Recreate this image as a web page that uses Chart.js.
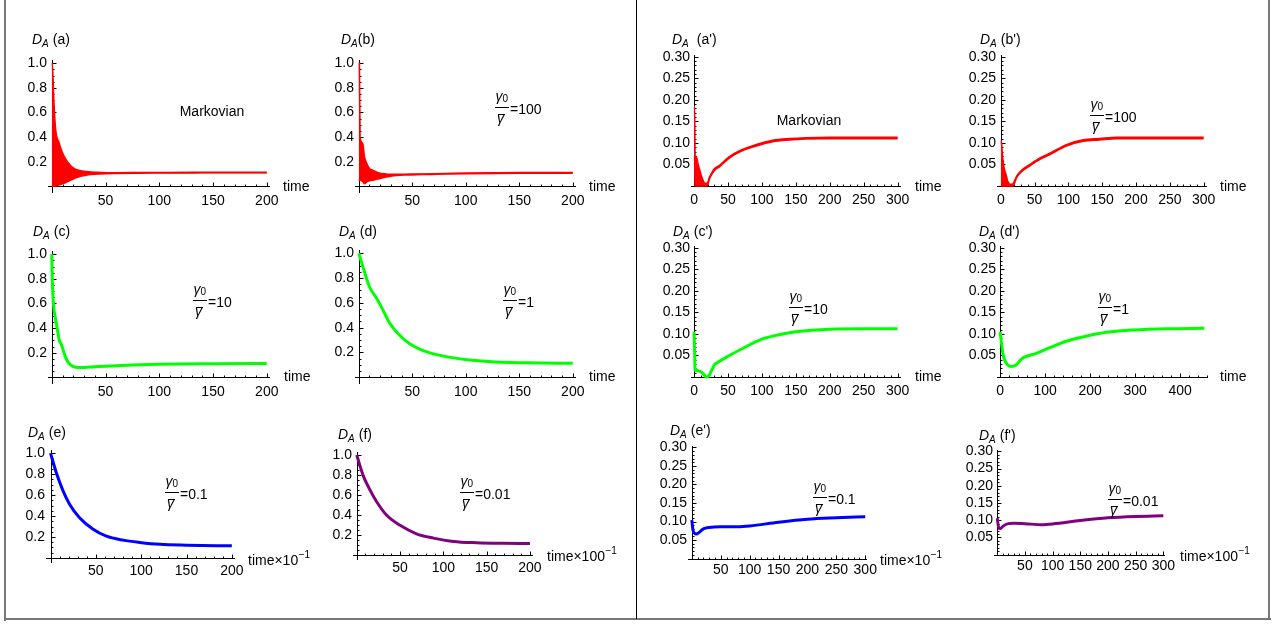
<!DOCTYPE html>
<html>
<head>
<meta charset="utf-8">
<script src="https://cdn.jsdelivr.net/npm/chart.js@4.4.0/dist/chart.umd.min.js"></script>
<style>
html, body { margin: 0; padding: 0; background: #fff; }
#page { position: relative; width: 1276px; height: 626px; overflow: hidden; }
#page canvas { position: absolute; }
.rule { position: absolute; background: #777; }
</style>
</head>
<body>
<div id="page">
  <div class="rule" style="left:4px;top:0;width:2px;height:621px"></div>
  <div class="rule" style="left:4px;top:618px;width:1267px;height:2px"></div>
  <div class="rule" style="left:1268px;top:0;width:2px;height:620px"></div>
  <div class="rule" style="left:636px;top:0;width:1px;height:619px;background:#000"></div>
</div>
<script>
// values

// (a) Markovian, fast oscillation drawn as an envelope
const aTime  = [0, 0.5, 2, 3.6, 6.7, 10, 13, 17.8, 22.5, 32, 45, 60, 80, 100, 130, 160, 200];
const aUpper = [1.0, 1.0, 0.68, 0.46, 0.355, 0.27, 0.22, 0.165, 0.137, 0.12, 0.112, 0.11, 0.111, 0.112, 0.113, 0.113, 0.113];
const aLower = [0.0, 0.0, 0.0, 0.005, 0.01, 0.02, 0.03, 0.05, 0.07, 0.09, 0.1, 0.104, 0.107, 0.108, 0.109, 0.11, 0.11];

// (b) g0/g = 100
const bTime  = [0, 0.6, 1.2, 3.7, 5.3, 7.5, 10, 13, 16, 19, 25.5, 28.7, 35, 44, 60, 80, 100, 130, 160, 200];
const bUpper = [1.0, 1.0, 0.40, 0.35, 0.24, 0.185, 0.145, 0.13, 0.117, 0.108, 0.1, 0.098, 0.097, 0.098, 0.1, 0.104, 0.107, 0.11, 0.111, 0.112];
const bLower = [0.05, 0.05, 0.05, 0.04, 0.02, 0.035, 0.045, 0.05, 0.055, 0.062, 0.075, 0.08, 0.088, 0.092, 0.095, 0.099, 0.102, 0.105, 0.106, 0.107];

// (c) g0/g = 10
const cTime   = [0, 0.5, 1.5, 3, 5, 7, 9, 11, 13, 15, 17.5, 20, 25, 30, 40, 50, 75, 100, 150, 200];
const cValues = [1.0, 0.8, 0.6, 0.5, 0.4, 0.3, 0.265, 0.21, 0.16, 0.125, 0.1, 0.087, 0.08, 0.08, 0.085, 0.09, 0.1, 0.106, 0.11, 0.112];

// (d) g0/g = 1
const dTime   = [0, 4, 10, 16.5, 21, 29, 38, 47.6, 63, 79, 103.6, 128, 156, 200];
const dValues = [1.0, 0.89, 0.73, 0.64, 0.57, 0.435, 0.34, 0.27, 0.206, 0.17, 0.138, 0.122, 0.116, 0.112];

// (e) g0/g = 0.1
const eTime   = [0, 6.3, 13.7, 21, 32, 47, 61.6, 80, 98.5, 120.7, 150, 200];
const eValues = [1.0, 0.815, 0.643, 0.513, 0.384, 0.274, 0.208, 0.17, 0.148, 0.13, 0.122, 0.116];

// (f) g0/g = 0.01
const fTime   = [0, 7.7, 15.4, 23, 34.6, 50, 69, 88.5, 111.5, 138.5, 169, 200];
const fValues = [1.0, 0.79, 0.65, 0.535, 0.40, 0.30, 0.216, 0.173, 0.14, 0.127, 0.121, 0.118];

// (a') Markovian
const apTime  = [0, 0.8, 1.5, 3.4, 6, 8.3, 10.5, 13, 16, 19, 23, 30, 37.7, 52, 67, 92, 116, 141, 165, 200, 250, 300];
const apUpper = [0.185, 0.185, 0.07, 0.068, 0.05, 0.037, 0.025, 0.014, 0.006, 0.006, 0.021, 0.04, 0.048, 0.068, 0.082, 0.096, 0.106, 0.11, 0.112, 0.113, 0.113, 0.113];
const apLower = [0.07, 0.07, 0.0, 0.0, 0.0, 0.0, 0.0, 0.0, 0.0, 0.0, 0.018, 0.036, 0.045, 0.065, 0.079, 0.093, 0.103, 0.107, 0.109, 0.11, 0.11, 0.11];

// (b') g0/g = 100
const bpTime  = [0, 0.8, 2, 4, 6, 8, 10, 12, 15, 18, 23.6, 31, 43, 58, 72.7, 97, 122, 146, 171, 200, 250, 300];
const bpUpper = [0.105, 0.105, 0.08, 0.05, 0.035, 0.025, 0.012, 0.006, 0.004, 0.005, 0.023, 0.037, 0.05, 0.065, 0.076, 0.096, 0.107, 0.11, 0.113, 0.113, 0.113, 0.113];
const bpLower = [0.0, 0.0, 0.0, 0.0, 0.0, 0.0, 0.0, 0.0, 0.0, 0.0, 0.02, 0.034, 0.047, 0.062, 0.073, 0.093, 0.104, 0.107, 0.11, 0.11, 0.11, 0.11];

// (c') g0/g = 10
const cpTime   = [0, 0.8, 1.5, 5, 10, 15, 18, 22, 25, 30, 33, 50, 70, 100, 125, 150, 200, 250, 300];
const cpValues = [0.105, 0.06, 0.015, 0.015, 0.012, 0.005, 0.0, 0.003, 0.012, 0.028, 0.032, 0.048, 0.065, 0.088, 0.098, 0.105, 0.111, 0.112, 0.112];

// (d') g0/g = 1
const dpTime   = [0, 6, 9.6, 17, 24, 35.5, 46.7, 54, 80, 110, 147, 184, 220, 258, 295, 369, 454];
const dpValues = [0.105, 0.055, 0.04, 0.028, 0.0245, 0.028, 0.041, 0.046, 0.055, 0.068, 0.083, 0.093, 0.101, 0.106, 0.109, 0.112, 0.113];

// (e') g0/g = 0.1
const epTime   = [0, 2, 5, 8, 12, 20, 30, 50, 80, 100, 150, 200, 250, 300];
const epValues = [0.104, 0.077, 0.068, 0.066, 0.07, 0.08, 0.084, 0.086, 0.086, 0.088, 0.098, 0.106, 0.11, 0.113];

// (f') g0/g = 0.01
const fpTime   = [0, 3, 6, 10, 20, 30, 50, 80, 100, 150, 200, 250, 300];
const fpValues = [0.106, 0.077, 0.076, 0.082, 0.09, 0.091, 0.09, 0.087, 0.089, 0.099, 0.107, 0.111, 0.113];

// tick labels
const xTicksLeft    = [50, 100, 150, 200];
const yTicksLeft    = [0.2, 0.4, 0.6, 0.8, 1.0];
const xTicksRight   = [0, 50, 100, 150, 200, 250, 300];
const xTicksLong    = [0, 100, 200, 300, 400];
const xTicksScaled  = [50, 100, 150, 200, 250, 300];
const yTicksRight   = [0.05, 0.10, 0.15, 0.20, 0.25, 0.30];

const RED = '#ff0000', GREEN = '#00ff00', BLUE = '#0000ff', PURPLE = '#800080';
const FONT = '"Liberation Sans", Arial, sans-serif';
const LPAD = 45, TPAD = 40, RPAD = 90, BPAD = 30;
const page = document.getElementById('page');

function curve(ts, vs, color) {
  return { data: ts.map((t, i) => ({ x: t, y: vs[i] })), borderColor: color, borderWidth: 3,
           pointRadius: 0, fill: false, cubicInterpolationMode: 'monotone', clip: 4 };
}
function band(ts, hi, lo, color) {
  return [
    { data: ts.map((t, i) => ({ x: t, y: hi[i] })), borderColor: color, borderWidth: 1.6,
      pointRadius: 0, fill: false, cubicInterpolationMode: 'monotone', clip: 4 },
    { data: ts.map((t, i) => ({ x: t, y: lo[i] })), borderColor: color, borderWidth: 1.6,
      pointRadius: 0, fill: '-1', backgroundColor: color, cubicInterpolationMode: 'monotone', clip: 4 }
  ];
}

function drawTitle(ctx, x, y, tag, gap) {
  ctx.textAlign = 'left'; ctx.textBaseline = 'alphabetic'; ctx.fillStyle = '#000';
  ctx.font = 'italic 14px ' + FONT;
  ctx.fillText('D', x, y);
  let w = ctx.measureText('D').width;
  ctx.font = 'italic 10px ' + FONT;
  ctx.fillText('A', x + w, y + 3);
  w += ctx.measureText('A').width;
  ctx.font = '14px ' + FONT;
  ctx.fillText(tag, x + w + gap, y);
}

function drawRatio(ctx, x, y, value) {
  ctx.textAlign = 'left'; ctx.textBaseline = 'alphabetic'; ctx.fillStyle = '#000';
  ctx.font = 'italic 14px ' + FONT;
  const gw = ctx.measureText('\u03b3').width;
  ctx.fillText('\u03b3', x + 0.5, y - 6);
  ctx.font = '10px ' + FONT;
  ctx.fillText('0', x + 0.5 + gw, y - 5);
  ctx.fillRect(x, Math.round(y), 14, 1);
  ctx.font = 'italic 14px ' + FONT;
  ctx.fillText('\u03b3', x + 2, y + 16);
  ctx.fillRect(x + 3, Math.round(y) + 7, gw, 1);
  ctx.font = '14px ' + FONT;
  ctx.textBaseline = 'middle';
  ctx.fillText('=' + value, x + 15, y + 3);
}

function drawTime(ctx, x, y, scale) {
  ctx.textAlign = 'left'; ctx.textBaseline = 'middle'; ctx.fillStyle = '#000';
  ctx.font = '14px ' + FONT;
  const base = scale ? 'time\u00d7' + scale : 'time';
  ctx.fillText(base, x, y);
  if (scale) {
    const w = ctx.measureText(base).width;
    ctx.font = '10px ' + FONT;
    ctx.fillText('\u22121', x + w + 0.5, y - 6);
  }
}

function panel(p) {
  const xs = (p.xEndPx - p.x0) / p.xEndVal;
  const ys = (p.y0 - p.yTopPx) / p.yTopVal;
  const caL = Math.round(p.x0 + p.xMin * xs);
  const caR = Math.round(p.x0 + p.xMax * xs);
  const caT = Math.round(p.y0 - p.yMax * ys);
  const caB = Math.round(p.y0 - p.yMin * ys);
  const left = caL - LPAD, top = caT - TPAD;
  const W = caR - caL + LPAD + RPAD, H = caB - caT + TPAD + BPAD;
  const cv = document.createElement('canvas');
  cv.width = W; cv.height = H;
  cv.style.left = left + 'px'; cv.style.top = top + 'px';
  cv.style.width = W + 'px'; cv.style.height = H + 'px';
  page.appendChild(cv);

  const decorations = {
    id: 'mmaAxes',
    beforeDatasetsDraw(chart) {
      const ctx = chart.ctx, ca = chart.chartArea;
      const sx = chart.scales.x, sy = chart.scales.y;
      const ox = Math.round(sx.getPixelForValue(0)) + 0.5;
      const oy = Math.round(sy.getPixelForValue(0)) + 0.5;
      ctx.save();
      ctx.strokeStyle = '#000'; ctx.lineWidth = 1;
      ctx.beginPath();
      ctx.moveTo(ca.left, oy); ctx.lineTo(ca.right, oy);
      ctx.moveTo(ox, ca.top); ctx.lineTo(ox, ca.bottom);
      for (let k = 1; k * p.xMinor <= p.xMax + 1e-9; k++) {
        const v = k * p.xMinor, r = v / p.xMajor;
        const major = Math.abs(r - Math.round(r)) < 1e-6;
        const px = Math.round(sx.getPixelForValue(v)) + 0.5;
        ctx.moveTo(px, oy); ctx.lineTo(px, oy - (major ? 4 : 2));
      }
      for (let k = 1; k * p.yMinor <= p.yMax + 1e-9; k++) {
        const v = k * p.yMinor, r = v / p.yMajor;
        const major = Math.abs(r - Math.round(r)) < 1e-6;
        const py = Math.round(sy.getPixelForValue(v)) + 0.5;
        ctx.moveTo(ox, py); ctx.lineTo(ox + (major ? 4 : 2), py);
      }
      ctx.stroke();
      ctx.restore();
    },
    afterDraw(chart) {
      const ctx = chart.ctx;
      ctx.save();
      drawTitle(ctx, p.title[0] - left, p.title[1] - top, p.tag, p.title[2]);
      drawTime(ctx, p.time[0] - left, p.time[1] - top, p.timeScale);
      if (p.ratio) drawRatio(ctx, p.ratio[0] - left, p.ratio[1] - top, p.ratio[2]);
      if (p.markov) {
        ctx.font = '14px ' + FONT; ctx.textAlign = 'center'; ctx.textBaseline = 'middle';
        ctx.fillStyle = '#000';
        ctx.fillText('Markovian', p.markov[0] - left, p.markov[1] - top);
      }
      ctx.restore();
    }
  };

  new Chart(cv, {
    type: 'line',
    data: { datasets: p.datasets },
    options: {
      responsive: false, animation: false, devicePixelRatio: 1,
      layout: { padding: { top: TPAD, right: RPAD, left: 0, bottom: 0 } },
      plugins: { legend: { display: false }, tooltip: { enabled: false } },
      elements: { point: { radius: 0 } },
      scales: {
        x: {
          type: 'linear', min: p.xMin, max: p.xMax,
          grid: { display: false, drawTicks: false }, border: { display: false },
          afterFit: s => { s.height = BPAD; },
          afterBuildTicks: s => { s.ticks = p.xTicks.map(v => ({ value: v })); },
          ticks: { autoSkip: false, maxRotation: 0, minRotation: 0, padding: p.xPad,
                   color: '#000', font: { family: FONT, size: 14 },
                   callback: v => String(Math.round(v)) }
        },
        y: {
          type: 'linear', min: p.yMin, max: p.yMax,
          grid: { display: false, drawTicks: false }, border: { display: false },
          afterFit: s => { s.width = LPAD; },
          afterBuildTicks: s => { s.ticks = p.yTicks.map(v => ({ value: v })); },
          ticks: { autoSkip: false, padding: 1, color: '#000', font: { family: FONT, size: 14 },
                   callback: v => v.toFixed(p.yDec) }
        }
      }
    },
    plugins: [decorations]
  });
}

const leftCol = { xEndVal: 200, yTopVal: 1, xMin: -3.5, xMax: 203, yMin: -0.055, yMax: 1.027,
  xTicks: xTicksLeft, yTicks: yTicksLeft, xMinor: 10, xMajor: 50, yMinor: 0.05, yMajor: 0.2, yDec: 1, xPad: 0 };
const rightCol = { xEndVal: 300, yTopVal: 0.3, xMin: -4.5, xMax: 305, yMin: 0, yMax: 0.304,
  xTicks: xTicksRight, yTicks: yTicksRight, xMinor: 10, xMajor: 50, yMinor: 0.01, yMajor: 0.05, yDec: 2, xPad: 6 };

panel(Object.assign({}, leftCol, { tag: '(a)', x0: 52, xEndPx: 267, y0: 186.5, yTopPx: 63.3,
  title: [32, 44, 4], time: [283, 187], markov: [212, 112], datasets: band(aTime, aUpper, aLower, RED) }));
panel(Object.assign({}, leftCol, { tag: '(b)', x0: 359, xEndPx: 573, y0: 186.5, yTopPx: 63.3,
  title: [341, 44, 0], time: [589, 187], ratio: [495, 107, '100'], datasets: band(bTime, bUpper, bLower, RED) }));
panel(Object.assign({}, leftCol, { tag: '(c)', x0: 52, xEndPx: 267, y0: 377, yTopPx: 254,
  title: [33, 236, 4], time: [284, 377], ratio: [193, 300, '10'], datasets: [curve(cTime, cValues, GREEN)] }));
panel(Object.assign({}, leftCol, { tag: '(d)', x0: 359, xEndPx: 573, y0: 377, yTopPx: 253.5,
  title: [339, 236, 4], time: [589, 377], ratio: [503, 300, '1'], datasets: [curve(dTime, dValues, GREEN)] }));
panel(Object.assign({}, leftCol, { tag: '(e)', x0: 51, xEndPx: 232, y0: 558, yTopPx: 452.7,
  xMin: -5, xMax: 203.5, yMin: -0.048, yMax: 1.03,
  title: [28, 437, 4], time: [248, 561], timeScale: '10', ratio: [165, 492, '0.1'],
  datasets: [curve(eTime, eValues, BLUE)] }));
panel(Object.assign({}, leftCol, { tag: '(f)', x0: 357, xEndPx: 530, y0: 555.5, yTopPx: 455,
  xMin: -4.3, xMax: 203.5, yMin: -0.045, yMax: 1.03,
  title: [338, 439, 4], time: [547, 557], timeScale: '100', ratio: [460, 492, '0.01'],
  datasets: [curve(fTime, fValues, PURPLE)] }));

panel(Object.assign({}, rightCol, { tag: "(a')", x0: 694, xEndPx: 898, y0: 186, yTopPx: 56.7,
  title: [672, 44, 8], time: [915, 187], markov: [809, 121], datasets: band(apTime, apUpper, apLower, RED) }));
panel(Object.assign({}, rightCol, { tag: "(b')", x0: 1000.5, xEndPx: 1204, y0: 186, yTopPx: 56.7, xMin: -5.6,
  title: [980, 44, 4], time: [1220, 187], ratio: [1090, 115, '100'], datasets: band(bpTime, bpUpper, bpLower, RED) }));
panel(Object.assign({}, rightCol, { tag: "(c')", x0: 694, xEndPx: 898, y0: 377, yTopPx: 247.7,
  title: [673, 236, 4], time: [915, 377], ratio: [789, 307, '10'], datasets: [curve(cpTime, cpValues, GREEN)] }));
panel(Object.assign({}, rightCol, { tag: "(d')", x0: 1000.5, xEndPx: 1180, xEndVal: 400, y0: 377, yTopPx: 247.7,
  xMin: -7, xMax: 462, xTicks: xTicksLong, xMinor: 20, xMajor: 100,
  title: [979, 236, 4], time: [1220, 377], ratio: [1098, 307, '1'], datasets: [curve(dpTime, dpValues, GREEN)] }));
panel(Object.assign({}, rightCol, { tag: "(e')", x0: 691.5, xEndPx: 865, y0: 558.3, yTopPx: 447.7,
  xMin: -6.6, xMax: 303, yMin: -0.004, xTicks: xTicksScaled, xPad: 2,
  title: [670, 435, 4], time: [880, 561], timeScale: '10', ratio: [813, 497, '0.1'],
  datasets: [curve(epTime, epValues, BLUE)] }));
panel(Object.assign({}, rightCol, { tag: "(f')", x0: 997.5, xEndPx: 1163, y0: 555, yTopPx: 451,
  xMin: -5.8, xMax: 303, yMin: -0.004, xTicks: xTicksScaled, xPad: 2,
  title: [979, 440, 4], time: [1180, 557], timeScale: '100', ratio: [1108, 499, '0.01'],
  datasets: [curve(fpTime, fpValues, PURPLE)] }));
</script>
</body>
</html>
